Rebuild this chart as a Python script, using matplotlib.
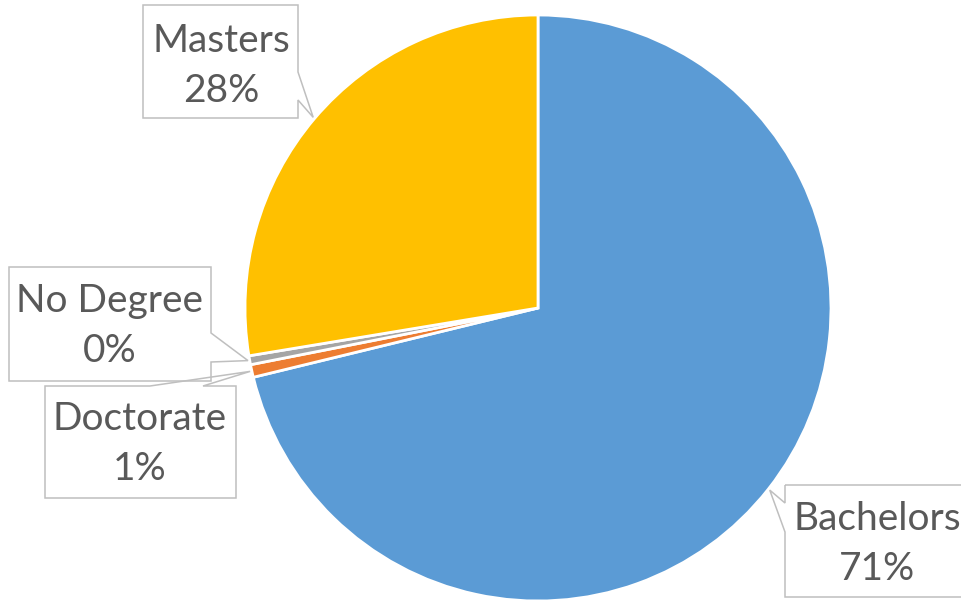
import matplotlib
matplotlib.use("Agg")
import matplotlib.pyplot as plt
from matplotlib.patches import Polygon
import numpy as np

# 학위별 비율 (%)
degrees = ["Bachelors", "Doctorate", "No Degree", "Masters"]
shares = [71.2, 0.7, 0.49, 27.61]
colors = ["#5B9BD5", "#ED7D31", "#A5A5A5", "#FFC000"]

W, H = 961, 600
cx, cy, R = 538, 308, 293   # 파이 중심과 반지름 (픽셀 단위)

fig = plt.figure(figsize=(W / 100, H / 100), dpi=100)
ax = fig.add_axes([0, 0, 1, 1])

# y축을 뒤집었으므로 startangle=-90, counterclock=True 가 화면상 12시 방향 시계방향
wedges, _ = ax.pie(shares, colors=colors, startangle=-90, counterclock=True,
                   center=(cx, cy), radius=R,
                   wedgeprops=dict(edgecolor="white", linewidth=2.0))

ax.set_xlim(0, W)
ax.set_ylim(H, 0)
ax.set_aspect("equal")
ax.axis("off")


def tip_of(w, r=1.006):
    th = np.deg2rad((w.theta1 + w.theta2) / 2)
    return (cx + r * R * np.cos(th), cy + r * R * np.sin(th))


def callout(box, side, base, tip):
    x0, y0, x1, y1 = box
    a, b = base
    pts = [(x0, y0)]
    if side == "top":
        pts += [(a, y0), tip, (b, y0)]
    pts.append((x1, y0))
    if side == "right":
        pts += [(x1, a), tip, (x1, b)]
    pts.append((x1, y1))
    if side == "bottom":
        pts += [(b, y1), tip, (a, y1)]
    pts.append((x0, y1))
    if side == "left":
        pts += [(x0, b), tip, (x0, a)]
    ax.add_patch(Polygon(pts, closed=True, facecolor="none",
                         edgecolor="#BFBFBF", linewidth=1.1, zorder=3))


# 라벨 상자: (상자 좌표, 꼬리 방향, 꼬리 시작점, 글자 중심)
label_layout = {
    "Bachelors": ((785, 485, 985, 597), "left", (503, 532), (877, 544)),
    "Doctorate": ((45, 386, 236, 498), "top", (150, 203), (140, 444)),
    "No Degree": ((9, 267, 211, 381), "right", (333, 362), (110, 326)),
    "Masters": ((143, 5, 298, 118), "right", (72, 100), (221, 66)),
}

for w, name, v in zip(wedges, degrees, shares):
    box, side, base, (tx, ty) = label_layout[name]
    callout(box, side, base, tip_of(w))
    ax.text(tx, ty, f"{name}\n{round(v)}%", ha="center", va="center",
            multialignment="center", fontsize=28, family="Lato",
            color="#595959", linespacing=1.5, zorder=4)

fig.savefig("out.png", dpi=100)
